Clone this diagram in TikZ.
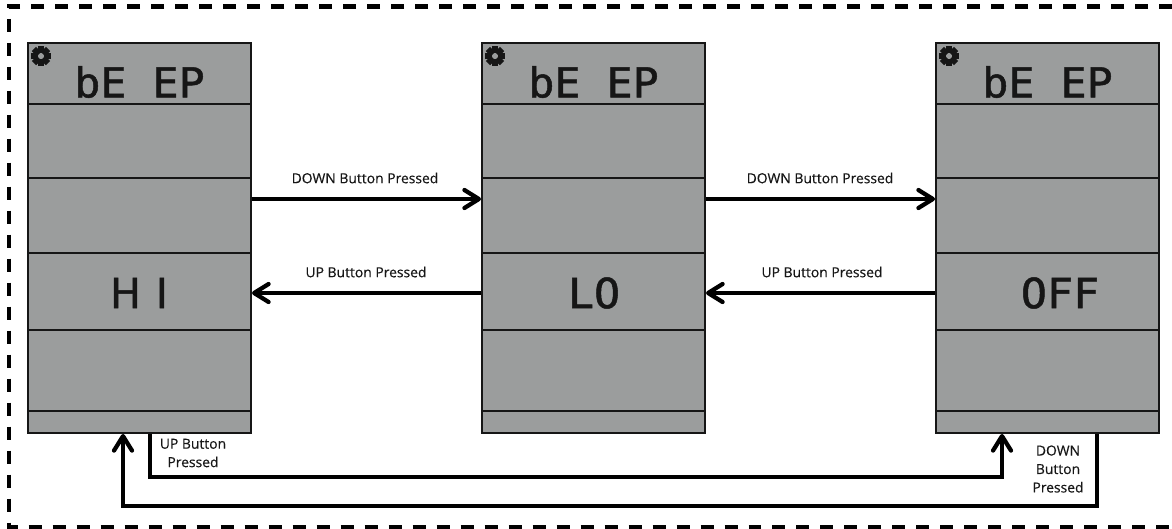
\documentclass[tikz,border=0pt]{standalone}
\usepackage{fontspec}
\setmainfont[FakeBold=0.35]{Open Sans}
\newfontfamily\lcdmono[FakeBold=1.2, FakeStretch=1.05]{DejaVu Sans Mono}
\newfontfamily\lcdsans[FakeBold=1.2]{DejaVu Sans}
\usetikzlibrary{arrows.meta, positioning, calc}
\definecolor{panelgray}{RGB}{155,157,157}
\definecolor{lcdink}{RGB}{22,22,22}
\tikzset{
    panelbox/.style={draw=lcdink, line width=0.04cm, fill=panelgray, minimum width=4.46cm, minimum height=7.8cm, inner sep=0pt},
    rowline/.style={lcdink, line width=0.04cm},
    lcdtext/.style={font=\lcdmono\fontsize{23.5}{25}\selectfont, text=lcdink, inner sep=0pt},
    flowarrow/.style={line width=0.085cm, -{Straight Barb[length=0.29cm, width=0.36cm, round]}},
    flowlabel/.style={font=\fontsize{7.9}{10.5}\selectfont, align=center, text=lcdink, inner sep=0pt},
    frameline/.style={line width=0.1cm, dash pattern=on 0.26cm off 0.22cm},
    pics/gearicon/.style={code={
        \foreach \toothangle in {0,45,...,315}
            \fill[lcdink, rotate=\toothangle] (-3,3) rectangle (3,10);
        \fill[lcdink, even odd rule] (0,0) circle (7.5) (0,0) circle (3.3);
    }}
}
\begin{document}
\begin{tikzpicture}[x=0.02cm, y=-0.02cm]
    \useasboundingbox (0,0) rectangle (1172,528);

    % Dashed frame, open on the right
    \draw[frameline] (1172,6) -- (9,6) -- (9,527) -- (1172,527);

    % Three display panels
    \foreach \panel/\panelx in {hi/139.5, lo/593.5, off/1047.5} {
        \node[panelbox] (\panel) at (\panelx,238) {};
        \foreach \rowy in {104,178,253,330,411}
            \draw[rowline] (\panel.west |- 0,\rowy) -- (\panel.east |- 0,\rowy);
        \node[lcdtext] (\panel beep) at (\panelx,82) {bE EP};
        \pic at ($(\panel.north west)+(14,14)$) {gearicon};
    }

    % Mode readouts
    \node[lcdtext, font=\lcdsans\fontsize{23.5}{25}\selectfont] (himode) at (139,293) {H\hspace{0.36em}I};
    \node[lcdtext] (lomode) at (594,293) {LO};
    \node[lcdtext] (offmode) at (1060,293) {OFF};

    % Arrow levels
    \coordinate (downlevel) at (0,199);
    \coordinate (uplevel) at (0,293);
    \coordinate (innerlevel) at (0,477);
    \coordinate (outerlevel) at (0,506);
    \coordinate (innerstart) at (150,0);
    \coordinate (innerend) at (1002,0);
    \coordinate (outerstart) at (1097,0);
    \coordinate (outerend) at (123,0);

    % Between panels
    \draw[flowarrow] (hi.east |- downlevel) -- (lo.west |- downlevel);
    \draw[flowarrow] (lo.east |- downlevel) -- (off.west |- downlevel);
    \draw[flowarrow] (lo.west |- uplevel) -- (hi.east |- uplevel);
    \draw[flowarrow] (off.west |- uplevel) -- (lo.east |- uplevel);

    % Wrap around
    \draw[flowarrow] (innerstart |- hi.south) -- (innerstart |- innerlevel) -- (innerend |- innerlevel) -- (innerend |- off.south);
    \draw[flowarrow] (outerstart |- off.south) -- (outerstart |- outerlevel) -- (outerend |- outerlevel) -- (outerend |- hi.south);

    % Labels
    \node[flowlabel] (downlabela) at (365,178) {DOWN Button Pressed};
    \node[flowlabel] (downlabelb) at (820,178) {DOWN Button Pressed};
    \node[flowlabel] (uplabela) at (366,272) {UP Button Pressed};
    \node[flowlabel] (uplabelb) at (822,272) {UP Button Pressed};
    \node[flowlabel] (uplabelc) at (193,453) {UP Button\\Pressed};
    \node[flowlabel] (downlabelc) at (1058,469) {DOWN\\Button\\Pressed};
\end{tikzpicture}
\end{document}
